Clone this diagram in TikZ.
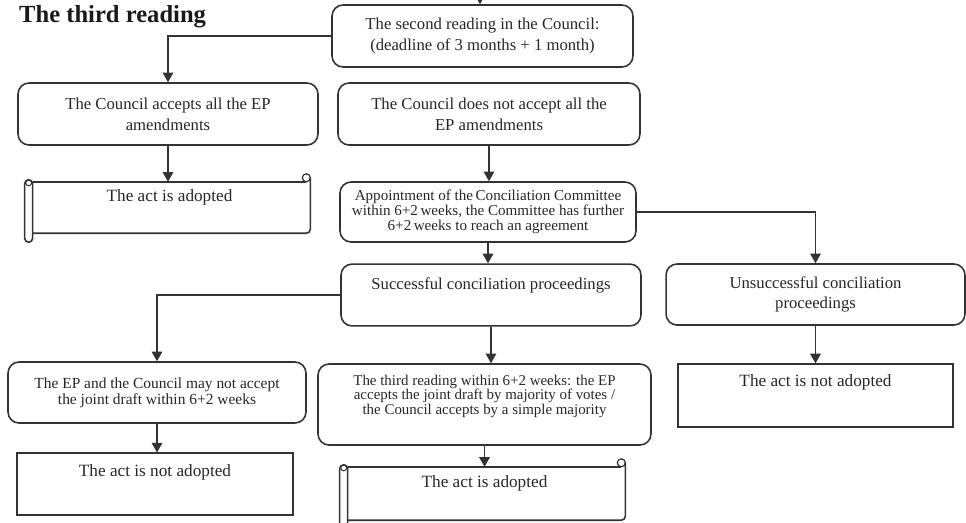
\documentclass[tikz,border=0pt]{standalone}
\usepackage{fontspec}
\setmainfont{Liberation Serif}
\usetikzlibrary{arrows.meta}
\usetikzlibrary{positioning}

\tikzset{
  stagebox/.style={draw=black!80, text=black!85, rounded corners=2.2mm, line width=0.9pt,
    align=center, inner sep=2pt, font=\fontsize{9.5}{12}\selectfont},
  endbox/.style={draw=black!80, text=black!85, line width=0.9pt, inner ysep=0pt,
    font=\fontsize{9.8}{12}\selectfont},
  scrollbox/.style={text=black!85, inner ysep=0pt, font=\fontsize{9.8}{12}\selectfont},
  scrollline/.style={draw=black!80, line width=0.9pt},
  flow/.style={draw=black!80, line width=0.9pt, -{Triangle[length=5.5pt,width=6pt]}},
}

\begin{document}
\begin{tikzpicture}[x=0.02cm, y=-0.02cm]
    \useasboundingbox (0,0) rectangle (966,522);

    \node[anchor=base west, font=\fontsize{14}{16}\selectfont\bfseries, text=black!90] (title) at (13,22) {The third reading};

    % second reading and the two answers of the Council
    \coordinate (entry) at (480,0);
    \node[stagebox, minimum width=6.02cm, minimum height=1.24cm] (second) at (482.5,36)
        {The second reading in the Council:\\(deadline of 3 months + 1 month)};
    \node[stagebox, minimum width=6.0cm, minimum height=1.24cm] (accepts) at (168,114)
        {The Council accepts all the EP\\amendments};
    \node[stagebox, minimum width=6.04cm, minimum height=1.24cm] (notaccept) at (489,114)
        {The Council does not accept all the\\EP amendments};
    \node[scrollbox, minimum width=5.62cm, text height=11.3pt, text depth=17.6pt] (adoptedA) at (169.5,207.5)
        {The act is adopted};

    % conciliation
    \node[stagebox, minimum width=5.92cm, minimum height=1.2cm, font=\fontsize{8.6}{8.6}\selectfont] (appoint) at (488,212)
        {Appointment of the\,Conciliation Committee\\within 6+2\,weeks, the Committee has further\\6+2\,weeks to reach an agreement};
    \node[stagebox, minimum width=6.0cm, inner ysep=0pt, text height=14.2pt, text depth=21pt] (succ) at (491,295)
        {Successful conciliation proceedings};
    \node[stagebox, minimum width=5.98cm, minimum height=1.22cm, font=\fontsize{9.5}{11.5}\selectfont] (unsucc) at (815.5,294.5)
        {Unsuccessful conciliation\\proceedings};

    % third reading
    \node[stagebox, minimum width=5.96cm, minimum height=1.22cm, font=\fontsize{8.8}{9.2}\selectfont] (epcouncil) at (157,392.5)
        {The EP and the Council may not accept\\the joint draft within 6+2 weeks};
    \node[endbox, minimum width=5.52cm, text height=13pt, text depth=22pt] (notadoptA) at (155,484)
        {The act is not adopted};
    \node[stagebox, minimum width=6.66cm, minimum height=1.62cm, font=\fontsize{8.5}{8.1}\selectfont] (third) at (484.5,404.5)
        {The third reading within 6+2 weeks: the EP\\accepts the joint draft by majority of votes /\\the Council accepts by a simple majority\\[3pt]};
    \node[scrollbox, minimum width=5.62cm, text height=11.3pt, text depth=18.7pt] (adoptedB) at (484.5,493.5)
        {The act is adopted};
    \node[endbox, minimum width=5.5cm, text height=13pt, text depth=22.7pt] (notadoptB) at (815.5,395.5)
        {The act is not adopted};

    % scroll outlines
    \foreach \s in {adoptedA, adoptedB}{
        \draw[scrollline, rounded corners=0.08cm] ([shift={(4,0)}]\s.north west) -- ([shift={(-4,0)}]\s.north east);
        \draw[scrollline, rounded corners=0.08cm] ([shift={(0,-4)}]\s.north east)
            -- (\s.south east) -- ([shift={(4,0)}]\s.south west);
        \draw[scrollline, rounded corners=0.08cm] ([shift={(-4,-2)}]\s.north west) rectangle ([shift={(4,9)}]\s.south west);
        \draw[scrollline, line width=0.6pt] ([shift={(0,1)}]\s.north west) circle (0.06cm);
        \draw[scrollline, line width=0.7pt] ([shift={(-4,-4)}]\s.north east) circle (0.08cm);
    }

    % connectors
    \draw[flow] (entry) -- (entry |- second.north);
    \draw[flow] (second.west) -| (accepts.north);
    \draw[flow] (accepts.south) -- (accepts.south |- adoptedA.north);
    \draw[flow] (notaccept.south) -- (notaccept.south |- appoint.north);
    \draw[flow] (appoint.east) -| (unsucc.north);
    \draw[flow] (appoint.south) -- (appoint.south |- succ.north);
    \draw[flow] (succ.west) -| (epcouncil.north);
    \draw[flow] (epcouncil.south) -- (epcouncil.south |- notadoptA.north);
    \draw[flow] (succ.south) -- (succ.south |- third.north);
    \draw[flow] (third.south) -- (third.south |- adoptedB.north);
    \draw[flow] (unsucc.south) -- (unsucc.south |- notadoptB.north);
\end{tikzpicture}
\end{document}
